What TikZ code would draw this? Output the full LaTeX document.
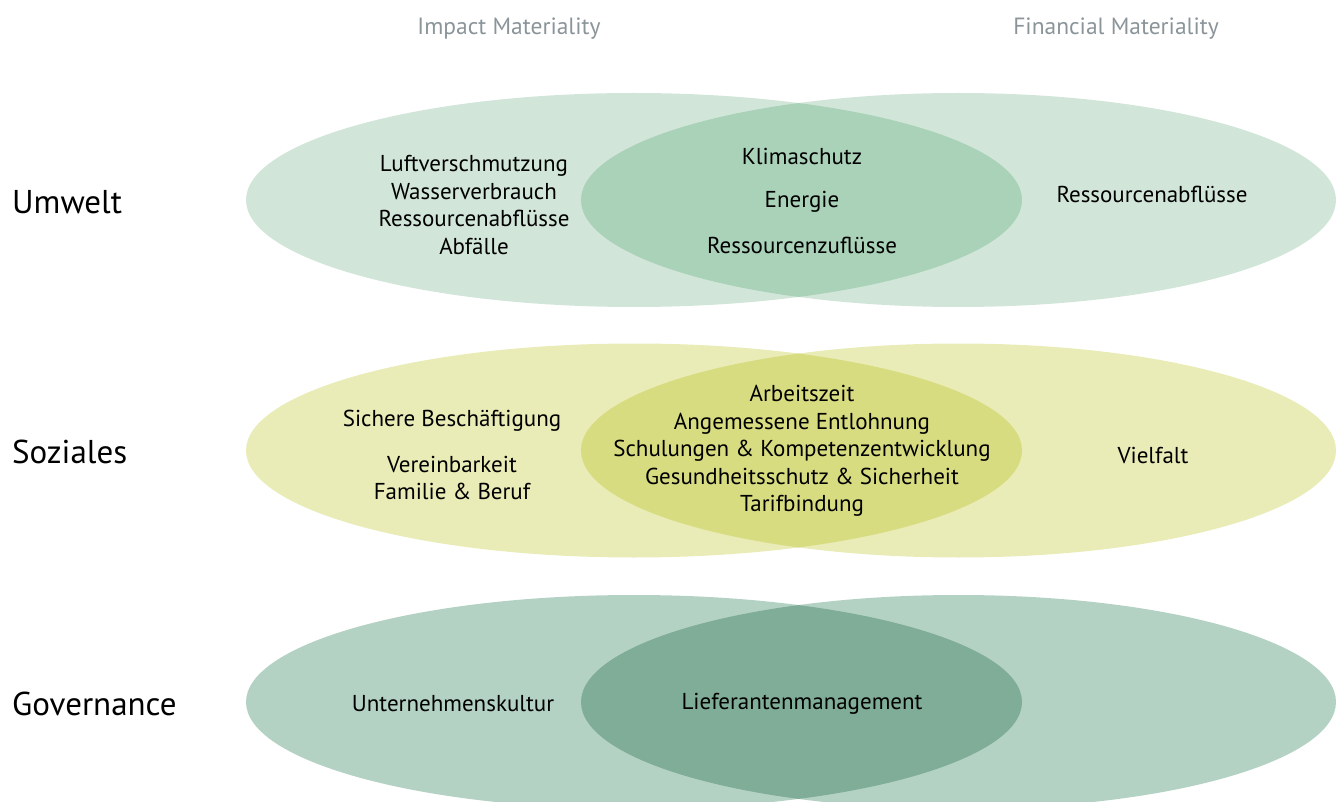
\documentclass[tikz,border=0pt]{standalone}
\usepackage{fontspec}
\setmainfont{PT Sans}
\definecolor{uL}{HTML}{D1E6D9}
\definecolor{uD}{HTML}{A9D2B8}
\definecolor{sL}{HTML}{E9ECB6}
\definecolor{sD}{HTML}{D8DC80}
\definecolor{gL}{HTML}{B4D2C4}
\definecolor{gD}{HTML}{80AD97}
\definecolor{hdr}{HTML}{8A9499}
\begin{document}
\begin{tikzpicture}[x=1pt,y=-1pt,
  txt/.style={inner sep=0pt,align=center,font=\fontsize{23}{27.5}\selectfont,text=black},
  side/.style={inner sep=0pt,anchor=west,font=\fontsize{33}{38}\selectfont,text=black},
  head/.style={inner sep=0pt,font=\fontsize{23.5}{28}\selectfont,text=hdr},
  ell/.style={x radius=388pt,y radius=107pt},
  elr/.style={x radius=377.5pt,y radius=107pt}]
\useasboundingbox (0,0) rectangle (1336,802);
\clip (0,0) rectangle (1336,802);
% rows
\foreach \yc/\cl/\cd in {200/uL/uD, 450.5/sL/sD, 702/gL/gD}{
  \fill[\cl] (634,\yc) ellipse[ell];
  \fill[\cl] (958.5,\yc) ellipse[elr];
  \begin{scope}
    \clip (634,\yc) ellipse[ell];
    \fill[\cd] (958.5,\yc) ellipse[elr];
  \end{scope}
}
% headers
\node[head] (hImp) at (509,29) {Impact Materiality};
\node[head] (hFin) at (1116,29) {Financial Materiality};
% side labels
\node[side] (sU) at (12,202) {Umwelt};
\node[side] (sS) at (12,452) {Soziales};
\node[side] (sG) at (12,704) {Governance};
% Umwelt
\node[txt] (u1) at (474,205) {Luftverschmutzung\\Wasserverbrauch\\Ressourcenabflüsse\\Abfälle};
\node[txt] (u2) at (802,156) {Klimaschutz};
\node[txt] (u3) at (802,202) {Energie};
\node[txt] (u4) at (802,245) {Ressourcenzuflüsse};
\node[txt] (u5) at (1152,194) {Ressourcenabflüsse};
% Soziales
\node[txt] (s1) at (452,421) {Sichere Beschäftigung};
\node[txt] (s2) at (452,478) {Vereinbarkeit\\Familie \& Beruf};
\node[txt] (s3) at (802,451) {Arbeitszeit\\Angemessene Entlohnung\\Schulungen \& Kompetenzentwicklung\\Gesundheitsschutz \& Sicherheit\\Tarifbindung};
\node[txt] (s4) at (1153,455) {Vielfalt};
% Governance
\node[txt] (g1) at (453,704) {Unternehmenskultur};
\node[txt] (g2) at (802,704) {Lieferantenmanagement};
\end{tikzpicture}
\end{document}
